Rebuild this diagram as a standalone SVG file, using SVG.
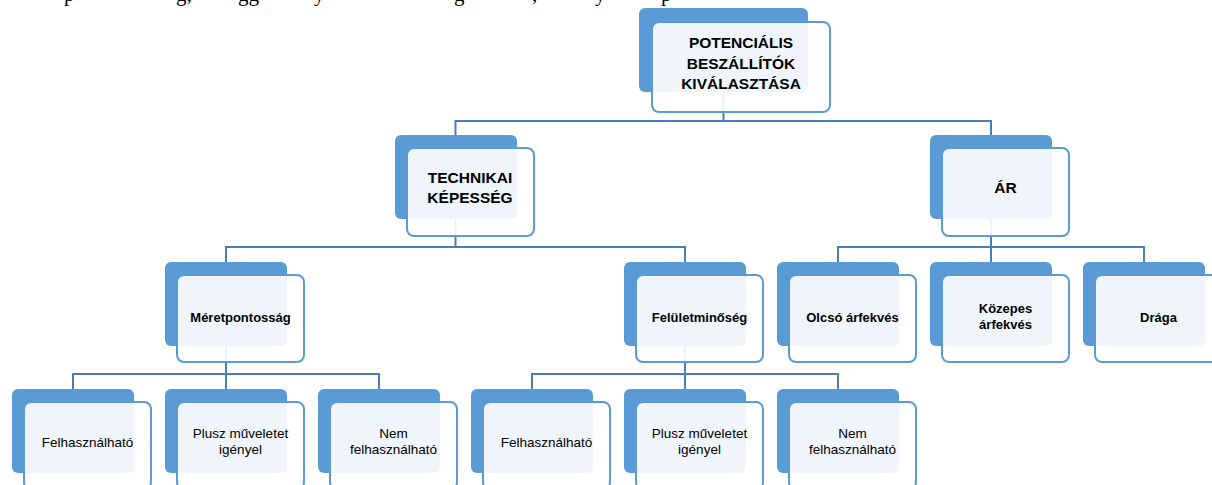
<svg xmlns="http://www.w3.org/2000/svg" width="1212" height="485" viewBox="0 0 1212 485">
<style>
.back{fill:#5B9BD5}
.front{fill:#FFFFFF;fill-opacity:0.9;stroke:#5B9BD5;stroke-width:2}
.conn{fill:none;stroke:#4A7EBB;stroke-width:2}
.t1{font-family:"Liberation Sans",Arial,sans-serif;font-weight:bold;font-size:15.5px;fill:#000;text-anchor:middle}
.t3{font-family:"Liberation Sans",Arial,sans-serif;font-weight:bold;font-size:13px;fill:#000;text-anchor:middle}
.t4{font-family:"Liberation Sans",Arial,sans-serif;font-size:13.5px;fill:#000;text-anchor:middle}
.pg{font-family:"Liberation Serif","Times New Roman",serif;font-size:21px;fill:#000}
</style>
<rect width="1212" height="485" fill="#FFFFFF"/>
<g id="page-text">
<text class="pg" y="0.5"><tspan x="64">p</tspan><tspan x="176">g,</tspan><tspan x="238">gg</tspan><tspan x="314">y</tspan><tspan x="454">g</tspan><tspan x="532">,</tspan><tspan x="595">y</tspan><tspan x="661">p</tspan></text>
</g>
<g id="connectors">
<path class="conn" d="M723.5,92 V121 M455.5,135 V121 H991 V135"/>
<path class="conn" d="M455.5,219 V247 M226,262 V247 H685 V262"/>
<path class="conn" d="M991,219 V262 M838,262 V247 H1144 V262"/>
<path class="conn" d="M226,346 V389 M73,389 V374 H379 V389"/>
<path class="conn" d="M685,346 V389 M532,389 V374 H838 V389"/>
</g>
<g id="n-root">
<rect class="back" x="639" y="8" width="169" height="84" rx="6"/>
<rect class="front" x="652" y="22" width="178" height="90" rx="7"/>
<text class="t1" x="741" y="48">POTENCIÁLIS</text>
<text class="t1" x="741" y="68.5">BESZÁLLÍTÓK</text>
<text class="t1" x="741" y="89">KIVÁLASZTÁSA</text>
</g>
<g id="n-technikai">
<rect class="back" x="395" y="135" width="122" height="84" rx="6"/>
<rect class="front" x="407" y="148" width="127" height="88" rx="7"/>
<text class="t1" x="470" y="183">TECHNIKAI</text>
<text class="t1" x="470" y="203">KÉPESSÉG</text>
</g>
<g id="n-ar">
<rect class="back" x="930" y="135" width="122" height="84" rx="6"/>
<rect class="front" x="942" y="148" width="127" height="88" rx="7"/>
<text class="t1" x="1005.5" y="193">ÁR</text>
</g>
<g id="n-meretpontossag">
<rect class="back" x="165" y="262" width="122" height="84" rx="6"/>
<rect class="front" x="177" y="275" width="127" height="87" rx="7"/>
<text class="t3" x="240.5" y="322">Méretpontosság</text>
</g>
<g id="n-feluletminoseg">
<rect class="back" x="624" y="262" width="122" height="84" rx="6"/>
<rect class="front" x="636" y="275" width="127" height="87" rx="7"/>
<text class="t3" x="699.5" y="322">Felületminőség</text>
</g>
<g id="n-olcso">
<rect class="back" x="777" y="262" width="122" height="84" rx="6"/>
<rect class="front" x="789" y="275" width="127" height="87" rx="7"/>
<text class="t3" x="852.5" y="322">Olcsó árfekvés</text>
</g>
<g id="n-kozepes">
<rect class="back" x="930" y="262" width="122" height="84" rx="6"/>
<rect class="front" x="942" y="275" width="127" height="87" rx="7"/>
<text class="t3" x="1005.5" y="313">Közepes</text>
<text class="t3" x="1005.5" y="329">árfekvés</text>
</g>
<g id="n-draga">
<rect class="back" x="1083" y="262" width="122" height="84" rx="6"/>
<rect class="front" x="1095" y="275" width="127" height="87" rx="7"/>
<text class="t3" x="1158.5" y="322">Drága</text>
</g>
<g id="n-m-felhasznalhato">
<rect class="back" x="12" y="389" width="122" height="84" rx="6"/>
<rect class="front" x="24" y="402" width="127" height="87" rx="7"/>
<text class="t4" x="87.5" y="447">Felhasználható</text>
</g>
<g id="n-m-plusz">
<rect class="back" x="165" y="389" width="122" height="84" rx="6"/>
<rect class="front" x="177" y="402" width="127" height="87" rx="7"/>
<text class="t4" x="240.5" y="438">Plusz műveletet</text>
<text class="t4" x="240.5" y="454">igényel</text>
</g>
<g id="n-m-nem">
<rect class="back" x="318" y="389" width="122" height="84" rx="6"/>
<rect class="front" x="330" y="402" width="127" height="87" rx="7"/>
<text class="t4" x="393.5" y="438">Nem</text>
<text class="t4" x="393.5" y="454">felhasználható</text>
</g>
<g id="n-f-felhasznalhato">
<rect class="back" x="471" y="389" width="122" height="84" rx="6"/>
<rect class="front" x="483" y="402" width="127" height="87" rx="7"/>
<text class="t4" x="546.5" y="447">Felhasználható</text>
</g>
<g id="n-f-plusz">
<rect class="back" x="624" y="389" width="122" height="84" rx="6"/>
<rect class="front" x="636" y="402" width="127" height="87" rx="7"/>
<text class="t4" x="699.5" y="438">Plusz műveletet</text>
<text class="t4" x="699.5" y="454">igényel</text>
</g>
<g id="n-f-nem">
<rect class="back" x="777" y="389" width="122" height="84" rx="6"/>
<rect class="front" x="789" y="402" width="127" height="87" rx="7"/>
<text class="t4" x="852.5" y="438">Nem</text>
<text class="t4" x="852.5" y="454">felhasználható</text>
</g>
</svg>
